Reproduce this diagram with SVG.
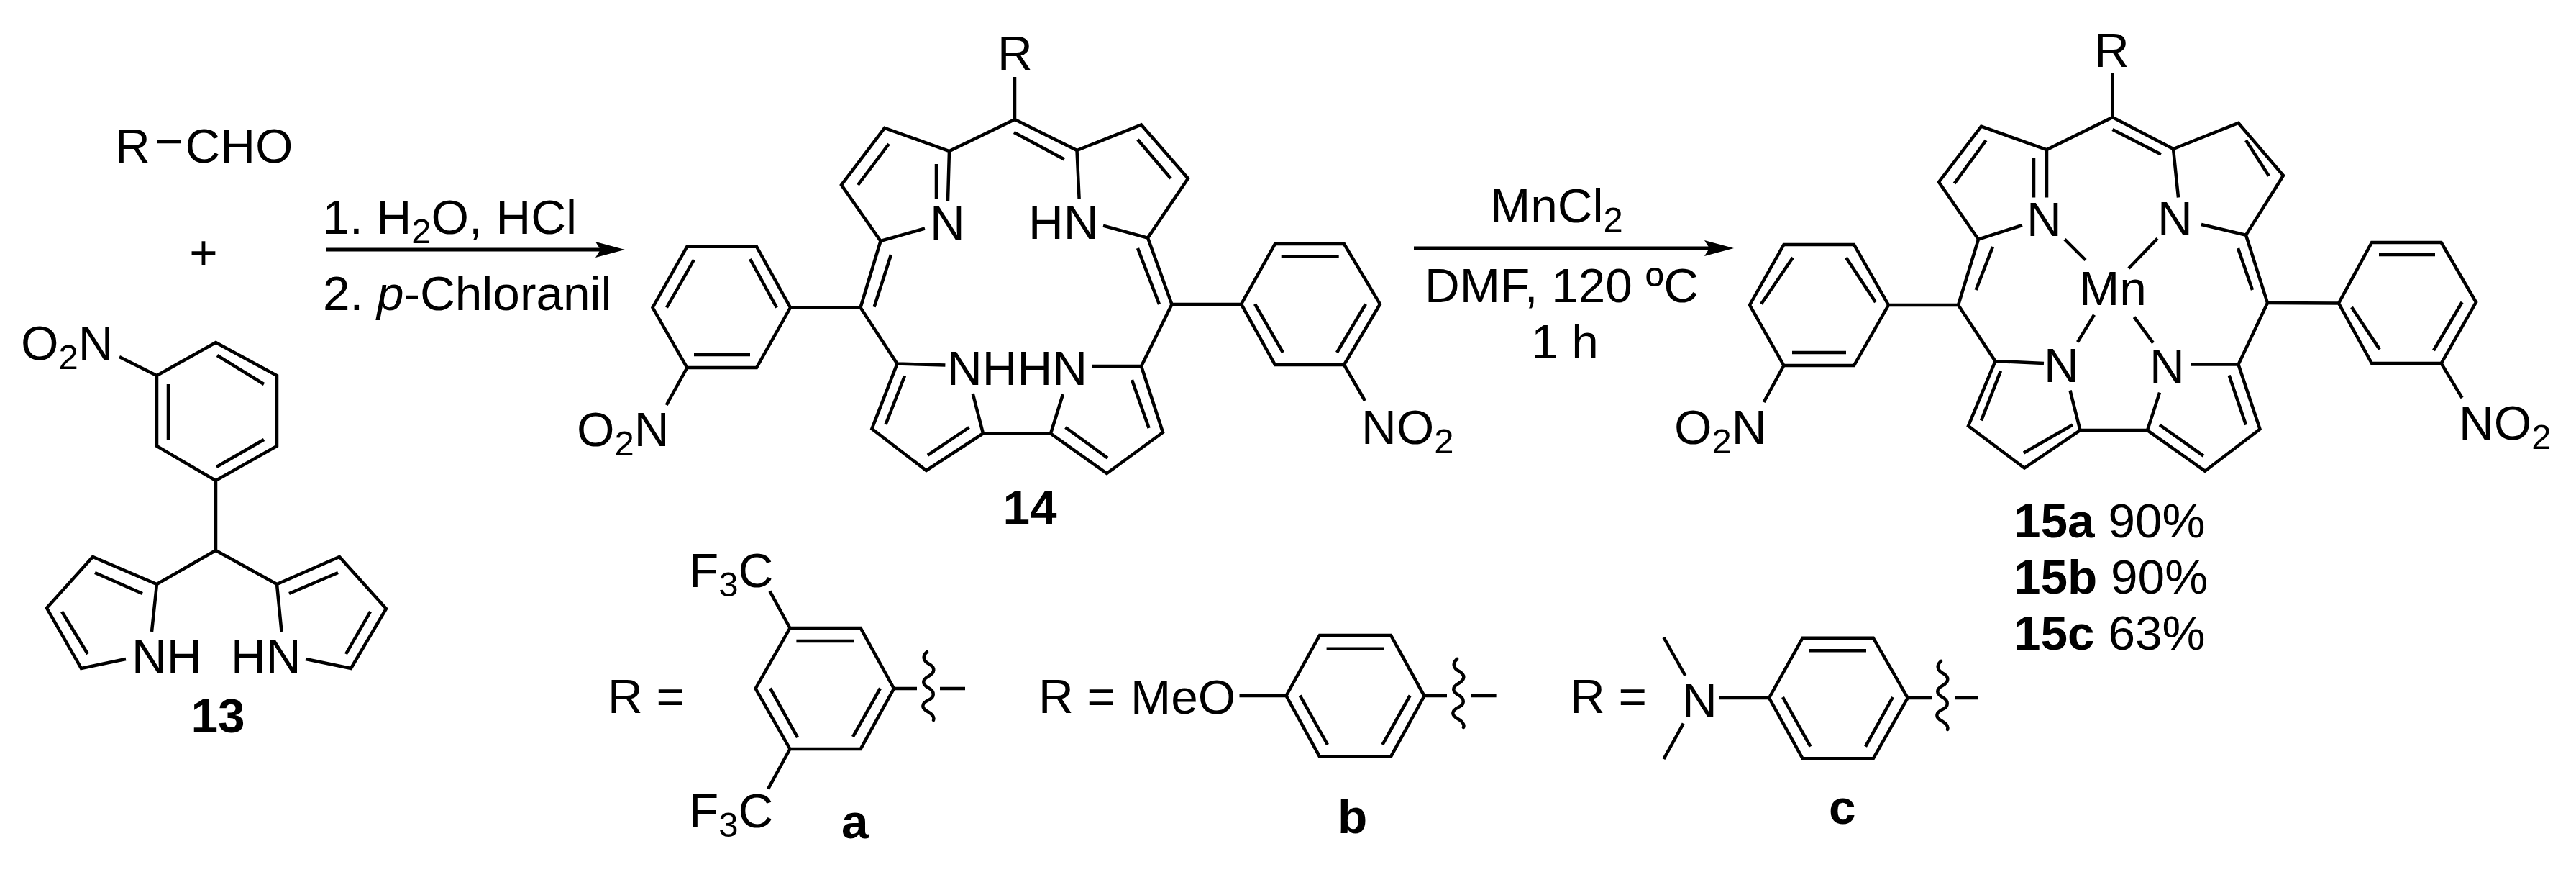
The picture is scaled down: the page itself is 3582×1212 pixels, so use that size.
<svg xmlns="http://www.w3.org/2000/svg" width="3582" height="1212" viewBox="0 0 3582 1212">
<style>
.b{fill:none;stroke:#000;stroke-width:4.5;stroke-linejoin:miter}
.a{fill:none;stroke:#000;stroke-width:5}
.w{fill:none;stroke:#000;stroke-width:4.5;stroke-linecap:round}
text{font-family:"Liberation Sans",Arial,sans-serif;font-size:67.5px;fill:#000}
.l{font-weight:bold}
.m{text-anchor:middle}
.s{font-size:49px}
</style>
<defs>
<marker id="head" markerUnits="userSpaceOnUse" markerWidth="42" markerHeight="26" viewBox="0 0 42 26" refX="8" refY="13" orient="auto"><path d="M0,2 L41,13 L0,24 L7,13 Z" fill="#000"/></marker>
<path id="wave" class="w" d="M-2,-51 C-9,-45 -7,-38 1,-34 C10,-29 9,-22 0,-17 C-9,-12 -9,-6 0,-1 C9,4 9,12 0,16 C-10,21 -10,27 -1,32 C8,37 8,42 7,44"/>
</defs>
<rect width="3582" height="1212" fill="#fff"/>

<g id="aldehyde">
<text x="160" y="226">R</text><path class="b" d="M218,197H252"/><text x="257.5" y="226">CHO</text>
</g>
<g id="plus"><text class="m" x="283" y="374">+</text></g>

<g id="compound-13">
<path class="b" d="M300,476L385,522V620L300,668L218,620V522Z M302,494L367,534 M234,534V611 M301,649L367,611 M166,496L218,522 M300,668V765 M300,765L218,812L129,774L65,845L113,929L175,916 M218,812L211,878 M132,796L198,825 M86,850L122,909 M300,765L385,812L472,774L537,846L488,929L425,916 M385,812L391.5,878 M402,825L470,796 M481,909L515,850"/>
<text x="29" y="500">O<tspan class="s" dy="13">2</tspan><tspan dy="-13">N</tspan></text>
<text x="183" y="935">NH</text><text x="321" y="935">HN</text>
<text class="l m" x="303" y="1018">13</text>
</g>

<g id="compound-14">
<path class="b" d="M1411,107V166L1320,210L1230,178L1170,257L1224.5,335L1286,317.5 M1320,210L1318,279 M1302,228V276 M1236,200L1193,257 M1411,166L1497.5,209L1500.6,276 M1497.5,209L1587,173.5L1652,248L1596,330.6L1534,313.6 M1582,194L1628,248 M1410,184L1480,221.5 M1224.5,335L1196.5,427.5L1247.5,505.6L1314.4,507.5 M1239,354L1215.6,426.6 M1596,330.6L1629.5,423L1587,509L1518,509 M1582,345L1612,423 M1247.5,505.6L1212.4,596L1288,654L1367,602.5L1352.7,547 M1258,522.5L1231.5,590 M1290,632.6L1347.6,594 M1587,509L1617,601L1539,658L1461,602.5L1478,548 M1574,528L1597.6,595 M1481.5,594L1540,636.5 M1367,602.5H1461"/>
<path class="b" d="M955.4,342.7H1052L1099,427.5L1052,511H955.4L907.5,427.5Z M1043,360L1080,427.5 M965,361L927,427.5 M965,493H1043 M1099,427.5H1196.5 M955.4,511L926.7,563"/>
<path class="b" d="M1773,339H1869L1919,422.7L1869,507H1773L1726,422.7Z M1781.7,356.7H1861.7 M1745,422.7L1784,490 M1899,422.7L1859,490 M1629.5,423H1726 M1869,507L1898,557"/>
<text x="1387" y="97">R</text>
<text x="1293" y="333">N</text><text x="1430" y="332">HN</text>
<text x="1317" y="535">NHHN</text>
<text x="802" y="620">O<tspan class="s" dy="13">2</tspan><tspan dy="-13">N</tspan></text>
<text x="1893" y="617">NO<tspan class="s" dy="13">2</tspan></text>
<text class="l m" x="1432" y="729">14</text>
</g>

<g id="compound-15">
<path class="b" d="M2937.5,102V163L2846,208L2755,175.7L2696,253L2751,332.7L2812,313 M2846,208V274.6 M2828,220V274.6 M2937.5,163L3022,207L3029,274.6 M3022,207L3112.5,171L3175,244L3123,326.7L3061,312 M2937.5,180L3005,214.6 M2761.6,195L2717.6,255 M3123,195L3155,244.6 M2871,332.7L2900,361.5 M3000,331.5L2960,373 M2912,437.6L2889,475.4 M2967.6,440.6L2994,476.6 M2751,332.7L2723,424L2774.5,502L2842,505 M2771,343L2747.6,403 M3123,326.7L3153,421L3112.5,506.6L3046,506.6 M3112,345L3132,403 M2774.5,502L2737,592L2815,650.5L2892.5,598L2878.5,542.6 M2782,515.6L2755,584.5 M2814,629.5L2882,590.5 M3112.5,506.6L3142.5,596.5L3066,654.7L2986,598L3003,545.6 M3099.6,521.6L3123,590.5 M3003,590.5L3064,633.7 M2892.5,598H2986"/>
<path class="b" d="M2480.5,340H2578L2626,424L2578,508H2480.5L2433,424Z M2567,358L2608,420 M2493,358L2449,422.6 M2492,490H2567 M2626,424H2723 M2480.5,508L2452.6,559"/>
<path class="b" d="M3298,337H3394.6L3443,420L3394.6,505H3298L3252,421.5Z M3308,354H3386 M3423.6,420L3384,487 M3270,427L3309,485.6 M3153,421L3252,421.5 M3394.6,505L3423.6,553"/>
<text x="2912" y="93">R</text>
<text x="2818" y="328">N</text><text x="3000" y="327">N</text>
<text x="2891" y="424">Mn</text>
<text x="2842" y="531">N</text><text x="2989" y="532">N</text>
<text x="2328" y="617">O<tspan class="s" dy="13">2</tspan><tspan dy="-13">N</tspan></text>
<text x="3419" y="611">NO<tspan class="s" dy="13">2</tspan></text>
<text x="2800" y="747"><tspan class="l">15a</tspan> 90%</text>
<text x="2800" y="825"><tspan class="l">15b</tspan> 90%</text>
<text x="2800" y="903"><tspan class="l">15c</tspan> 63%</text>
</g>

<g id="substituent-a">
<path class="b" d="M1098.5,873H1196.7L1243,957L1196.7,1041H1098.5L1050.6,957Z M1107.4,891H1187 M1224,956.7L1186,1024 M1071,956.7L1109,1025 M1098.5,873L1070.4,821.7 M1098.5,1041L1068,1096.7 M1243,957H1275 M1307,957H1342"/>
<use href="#wave" x="1291" y="957"/>
<text x="845" y="991">R =</text>
<text x="958" y="816">F<tspan class="s" dy="13">3</tspan><tspan dy="-13">C</tspan></text>
<text x="958" y="1150">F<tspan class="s" dy="13">3</tspan><tspan dy="-13">C</tspan></text>
<text class="l" x="1170" y="1165">a</text>
</g>

<g id="substituent-b">
<path class="b" d="M1835,883H1934L1980.5,967.3L1934,1051.7H1835L1788.5,967Z M1844.6,901.7H1924 M1960.7,966.7L1922.4,1035 M1807.6,966.7L1846,1035 M1723.5,967H1788.5 M1980.5,967H2012 M2045.5,967H2080.6"/>
<use href="#wave" x="2028" y="967"/>
<text x="1444" y="991">R =</text>
<text x="1572" y="992">MeO</text>
<text class="l" x="1860" y="1158">b</text>
</g>

<g id="substituent-c">
<path class="b" d="M2506.6,886.7H2604.8L2652.7,970L2604.8,1054.3H2506.6L2460,970Z M2515.5,904.3H2595 M2479,969L2517.5,1037.7 M2632,969L2594,1037.7 M2313.4,886L2343.4,939 M2340.8,1005.7L2313.4,1055 M2390,970H2460 M2652.7,970H2686.5 M2718,970H2750"/>
<use href="#wave" x="2701" y="970"/>
<text x="2183" y="991">R =</text>
<text x="2339" y="997">N</text>
<text class="l" x="2543" y="1145">c</text>
</g>

<g id="connectors">
<path class="a" d="M453,347H836" marker-end="url(#head)"/>
<path class="a" d="M1966,345H2378" marker-end="url(#head)"/>
</g>
<g id="conditions">
<text x="448.5" y="325">1. H<tspan class="s" dy="13">2</tspan><tspan dy="-13">O, HCl</tspan></text>
<text x="449" y="431">2. <tspan font-style="italic">p</tspan>-Chloranil</text>
<text x="2072" y="309">MnCl<tspan class="s" dy="13">2</tspan></text>
<text x="1981" y="420">DMF, 120 ºC</text>
<text x="2129" y="498">1 h</text>
</g>
</svg>
